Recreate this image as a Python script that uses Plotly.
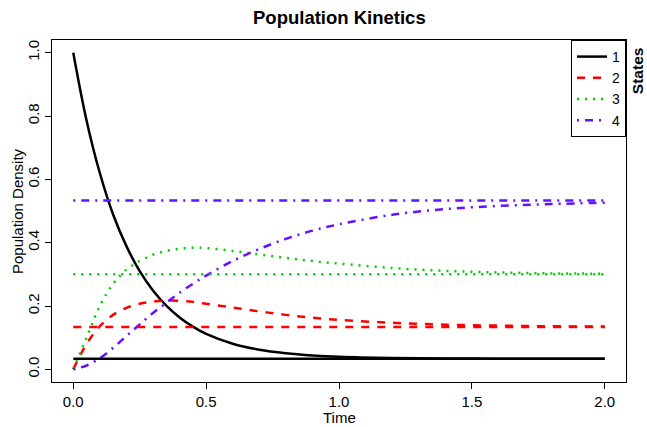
import plotly.graph_objects as go

time = [0.0, 0.05, 0.1, 0.15, 0.2, 0.25, 0.3, 0.35, 0.4, 0.45, 0.5, 0.6, 0.7, 0.8, 0.9,
        1.0, 1.2, 1.4, 1.6, 1.8, 2.0]
state1 = [1.0, 0.786, 0.620, 0.489, 0.389, 0.310, 0.249, 0.201, 0.164, 0.135, 0.112, 0.081,
          0.062, 0.051, 0.044, 0.0395, 0.0355, 0.0342, 0.0336, 0.0334, 0.0334]
state2 = [0.0, 0.080, 0.136, 0.172, 0.194, 0.207, 0.214, 0.217, 0.216, 0.213, 0.207, 0.195,
          0.183, 0.172, 0.163, 0.156, 0.147, 0.141, 0.138, 0.136, 0.135]
state3 = [0.0, 0.100, 0.200, 0.270, 0.315, 0.342, 0.362, 0.374, 0.381, 0.384, 0.383, 0.374,
          0.363, 0.352, 0.342, 0.334, 0.320, 0.311, 0.306, 0.303, 0.302]
state4 = [0.0, 0.012, 0.035, 0.068, 0.105, 0.142, 0.178, 0.210, 0.242, 0.270, 0.296, 0.342,
          0.380, 0.412, 0.438, 0.458, 0.488, 0.506, 0.516, 0.522, 0.526]
equilibrium = [1/30, 4/30, 9/30, 16/30]
names = ["1", "2", "3", "4"]
colors = ["#000000", "#FF0000", "#00CD00", "#6611FF"]
dashes = ["solid", "8px,8px", "2px,6px", "2px,6px,8px,6px"]
series = [state1, state2, state3, state4]

fig = go.Figure()
for i in range(4):
    fig.add_trace(go.Scatter(x=time, y=series[i], mode="lines", name=names[i],
                             line=dict(color=colors[i], width=2.5, dash=dashes[i], shape="spline"),
                             showlegend=True))
for i in range(4):
    fig.add_trace(go.Scatter(x=[time[0], time[-1]], y=[equilibrium[i], equilibrium[i]],
                             mode="lines", showlegend=False,
                             line=dict(color=colors[i], width=2.5, dash=dashes[i])))

font = "Liberation Sans, Arial, sans-serif"
fig.update_layout(
    width=647, height=427,
    margin=dict(l=52, r=21, t=40, b=45),
    paper_bgcolor="white", plot_bgcolor="white",
    font=dict(family=font, size=15, color="black"),
    legend=dict(x=1, xanchor="right", y=1, yanchor="top",
                bordercolor="black", borderwidth=1, bgcolor="white",
                font=dict(size=14), itemwidth=30, tracegroupgap=0),
    xaxis=dict(range=[-0.08, 2.08], tickvals=[0, 0.5, 1.0, 1.5, 2.0], tickformat=".1f",
               automargin=False, tickfont=dict(size=15),
               showgrid=False, zeroline=False, showline=True, linecolor="black", linewidth=1,
               mirror=True, ticks="outside", ticklen=6, tickcolor="black"),
    yaxis=dict(range=[-0.04, 1.04], tickvals=[0, 0.2, 0.4, 0.6, 0.8, 1.0], tickformat=".1f",
               tickangle=-90, automargin=False, tickfont=dict(size=15),
               showgrid=False, zeroline=False, showline=True, linecolor="black", linewidth=1,
               mirror=True, ticks="outside", ticklen=6, tickcolor="black"),
)
# title and axis titles
fig.add_annotation(text="<b>Population Kinetics</b>", xref="paper", yref="paper",
                   x=0.5, y=1, yshift=23, xanchor="center", yanchor="middle",
                   showarrow=False, font=dict(size=18.5))
fig.add_annotation(text="Time", xref="paper", yref="paper", x=0.5, y=0, yshift=-35,
                   xanchor="center", yanchor="middle", showarrow=False, font=dict(size=15))
fig.add_annotation(text="Population Density", xref="paper", yref="paper", x=0, y=0.5,
                   xshift=-35, xanchor="center", yanchor="middle", textangle=-90,
                   showarrow=False, font=dict(size=15))
fig.add_annotation(text="<b>States</b>", xref="paper", yref="paper", x=1.0, y=0.985,
                   xanchor="left", yanchor="top", xshift=1, textangle=-90, showarrow=False,
                   font=dict(size=15.5))
fig.write_html("out.html")
